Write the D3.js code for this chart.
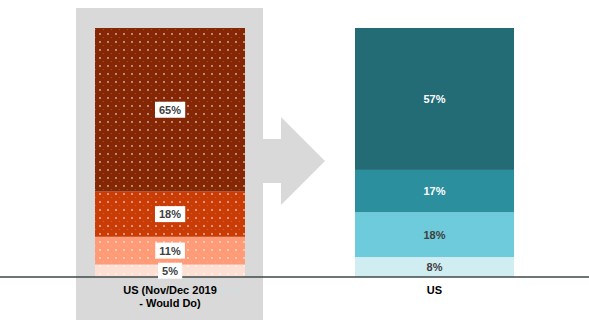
<!DOCTYPE html>
<html><head><meta charset="utf-8">
<script src="https://cdn.jsdelivr.net/npm/d3@7/dist/d3.min.js"></script>
<style>
html,body{margin:0;padding:0;background:#fff;}
svg{display:block;font-family:"Liberation Sans",Arial,sans-serif;}
</style></head>
<body><svg id="c" width="589" height="329"></svg>
<script>
// ---- data ----
const categories = ["US (Nov/Dec 2019\n- Would Do)", "US"];
const leftValues = [5, 11, 18, 65];      // bottom -> top
const rightValues = [8, 18, 17, 57];     // bottom -> top
const leftColors = ["#fedfd3", "#ff9b77", "#c93c05", "#852605"];
const rightColors = ["#d0edf2", "#6ecbdb", "#2b8f9e", "#236b75"];
const rightTextColors = ["#404040", "#404040", "#ffffff", "#ffffff"];

const svg = d3.select("#c");
const W = 589, H = 329;
const baseY = 277, topY = 28;

// x positions via point scale of bar centers
const x = d3.scalePoint().domain(categories).range([170, 434.5]);
const barWidths = [150, 159];

// gray highlight panel + arrow
svg.append("rect").attr("x", 76).attr("y", 8).attr("width", 187).attr("height", 312).attr("fill", "#d9d9d9");
svg.append("path")
  .attr("d", "M262,139 L281,139 L281,117 L325,161 L281,205 L281,183 L262,183 Z")
  .attr("fill", "#d9d9d9");

// dot pattern
const defs = svg.append("defs");
const pat = defs.append("pattern").attr("id", "dots").attr("patternUnits", "userSpaceOnUse")
  .attr("x", 95).attr("y", 28).attr("width", 8).attr("height", 8);
pat.append("rect").attr("x", 4).attr("y", 5).attr("width", 2).attr("height", 2).attr("fill", "#ffffff").attr("opacity", 0.45);
pat.append("rect").attr("x", 0).attr("y", 1).attr("width", 1).attr("height", 1).attr("fill", "#ffffff").attr("opacity", 0.2);

function stackData(vals) {
  let acc = 0;
  return vals.map((v, i) => { const d = {v, i, y0: acc, y1: acc + v}; acc += v; return d; });
}

// Left bar
const leftStack = stackData(leftValues);
const yL = d3.scaleLinear().domain([0, d3.sum(leftValues)]).range([baseY, topY]);
const lx = x(categories[0]) - barWidths[0] / 2;
const gL = svg.append("g");
gL.selectAll("rect.seg").data(leftStack).join("rect").attr("class", "seg")
  .attr("x", lx).attr("width", barWidths[0])
  .attr("y", d => yL(d.y1)).attr("height", d => yL(d.y0) - yL(d.y1))
  .attr("fill", d => leftColors[d.i]);
gL.selectAll("rect.pat").data(leftStack).join("rect").attr("class", "pat")
  .attr("x", lx).attr("width", barWidths[0])
  .attr("y", d => yL(d.y1)).attr("height", d => yL(d.y0) - yL(d.y1))
  .attr("fill", "url(#dots)");

// Right bar
const rightStack = stackData(rightValues);
const yR = d3.scaleLinear().domain([0, d3.sum(rightValues)]).range([baseY, topY]);
const rx = x(categories[1]) - barWidths[1] / 2;
const gR = svg.append("g");
gR.selectAll("rect").data(rightStack).join("rect")
  .attr("x", rx).attr("width", barWidths[1])
  .attr("y", d => yR(d.y1)).attr("height", d => yR(d.y0) - yR(d.y1))
  .attr("fill", d => rightColors[d.i]);

// baseline
svg.append("line").attr("x1", 0).attr("x2", W).attr("y1", baseY).attr("y2", baseY)
  .attr("stroke", "#3f4a48").attr("stroke-width", 1.3);

// Left labels with white boxes
const lbL = svg.append("g");
leftStack.forEach(d => {
  const cy = (yL(d.y0) + yL(d.y1)) / 2;
  const g = lbL.append("g");
  const t = g.append("text").attr("x", x(categories[0])).attr("y", cy).attr("dy", "0.36em")
    .attr("text-anchor", "middle").attr("font-size", 11).attr("font-weight", "bold")
    .attr("fill", "#404040").text(d.v + "%");
  const bb = t.node().getBBox();
  g.insert("rect", "text").attr("x", bb.x - 4).attr("y", cy - 8).attr("width", bb.width + 8).attr("height", 16)
    .attr("fill", "#ffffff");
});

// Right labels
svg.append("g").selectAll("text").data(rightStack).join("text")
  .attr("x", x(categories[1])).attr("y", d => (yR(d.y0) + yR(d.y1)) / 2).attr("dy", "0.36em")
  .attr("text-anchor", "middle").attr("font-size", 11).attr("font-weight", "bold")
  .attr("fill", d => rightTextColors[d.i]).text(d => d.v + "%");

// category labels
categories.forEach(c => {
  const lines = c.split("\n");
  const t = svg.append("text").attr("text-anchor", "middle").attr("font-size", 11)
    .attr("font-weight", "bold").attr("fill", "#000");
  lines.forEach((ln, k) => {
    t.append("tspan").attr("x", x(c)).attr("y", 294 + k * 13).text(ln);
  });
});

// faint artifact ticks
svg.append("line").attr("x1", 223).attr("x2", 240).attr("y1", 290).attr("y2", 290)
  .attr("stroke", "#bfe3ea").attr("stroke-width", 4).attr("stroke-dasharray", "1,6");
</script></body></html>
